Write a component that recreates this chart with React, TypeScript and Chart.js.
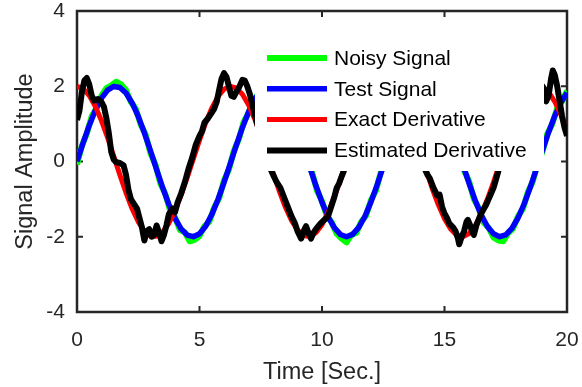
import React, { useEffect, useRef } from "react";
import { Chart, registerables } from "chart.js";

Chart.register(...registerables);

const FONT = "'Liberation Sans', Arial, Helvetica, sans-serif";
const AXIS_COLOR = "#262626";

const xTickValues = [0, 5, 10, 15, 20];
const yTickValues = [-4, -2, 0, 2, 4];
const xLabel = "Time [Sec.]";
const yLabel = "Signal Amplitude";
const seriesNames = ["Noisy Signal", "Test Signal", "Exact Derivative", "Estimated Derivative"];
const seriesColors = ["#00ff00", "#0000ff", "#ff0000", "#000000"];
const seriesWidths = [6, 5.5, 5, 6];

const timeSmooth = [
  0, 0.25, 0.5, 0.75, 1, 1.25, 1.5, 1.75, 2, 2.25, 2.5, 2.75, 3, 3.25, 3.5, 3.75,
  4, 4.25, 4.5, 4.75, 5, 5.25, 5.5, 5.75, 6, 6.25, 6.5, 6.75, 7, 7.25, 7.5, 7.75,
  8, 8.25, 8.5, 8.75, 9, 9.25, 9.5, 9.75, 10, 10.25, 10.5, 10.75, 11, 11.25, 11.5, 11.75,
  12, 12.25, 12.5, 12.75, 13, 13.25, 13.5, 13.75, 14, 14.25, 14.5, 14.75, 15, 15.25, 15.5, 15.75,
  16, 16.25, 16.5, 16.75, 17, 17.25, 17.5, 17.75, 18, 18.25, 18.5, 18.75, 19, 19.25, 19.5, 19.75, 20,
];

const testSignal = [
  0, 0.495, 0.959, 1.363, 1.683, 1.898, 1.995, 1.968, 1.819, 1.556, 1.197, 0.763, 0.282, -0.217, -0.701, -1.143,
  -1.514, -1.789, -1.955, -1.998, -1.918, -1.719, -1.411, -1.017, -0.559, -0.067, 0.43, 0.9, 1.314, 1.645, 1.876, 1.991,
  1.979, 1.842, 1.595, 1.245, 0.824, 0.346, -0.15, -0.639, -1.088, -1.469, -1.759, -1.939, -2.0, -1.936, -1.752, -1.462,
  -1.073, -0.62, -0.132, 0.365, 0.841, 1.263, 1.606, 1.853, 1.981, 1.988, 1.869, 1.633, 1.301, 0.881, 0.412, -0.088,
  -0.576, -1.031, -1.426, -1.726, -1.923, -1.999, -1.951, -1.78, -1.502, -1.129, -0.686, -0.201, 0.3, 0.779, 1.209, 1.565, 1.826,
];

const exactDerivative = [
  2.0, 1.938, 1.755, 1.463, 1.081, 0.631, 0.141, -0.356, -0.832, -1.256, -1.602, -1.849, -1.98, -1.988, -1.873, -1.641,
  -1.307, -0.893, -0.422, 0.075, 0.567, 1.025, 1.417, 1.722, 1.92, 1.999, 1.953, 1.786, 1.508, 1.136, 0.693, 0.216,
  -0.291, -0.772, -1.204, -1.562, -1.822, -1.969, -1.994, -1.892, -1.678, -1.352, -0.952, -0.487, 0.009, 0.497, 0.96, 1.364,
  1.688, 1.898, 1.996, 1.966, 1.815, 1.549, 1.192, 0.749, 0.274, -0.226, -0.718, -1.152, -1.519, -1.791, -1.957, -1.998,
  -1.916, -1.712, -1.403, -1.005, -0.551, -0.058, 0.436, 0.915, 1.32, 1.65, 1.878, 1.99, 1.977, 1.842, 1.593, 1.244, 0.816,
];

const timeNoisy = [
  0, 0.2, 0.4, 0.6, 0.8, 1, 1.2, 1.4, 1.6, 1.8, 2, 2.2, 2.4, 2.6, 2.8, 3, 3.2, 3.4, 3.6, 3.8,
  4, 4.2, 4.4, 4.6, 4.8, 5, 5.2, 5.4, 5.6, 5.8, 6, 6.2, 6.4, 6.6, 6.8, 7, 7.2, 7.4, 7.6, 7.8,
  8, 8.2, 8.4, 8.6, 8.8, 9, 9.2, 9.4, 9.6, 9.8, 10, 10.2, 10.4, 10.6, 10.8, 11, 11.2, 11.4, 11.6, 11.8,
  12, 12.2, 12.4, 12.6, 12.8, 13, 13.2, 13.4, 13.6, 13.8, 14, 14.2, 14.4, 14.6, 14.8, 15, 15.2, 15.4, 15.6, 15.8,
  16, 16.2, 16.4, 16.6, 16.8, 17, 17.2, 17.4, 17.6, 17.8, 18, 18.2, 18.4, 18.6, 18.8, 19, 19.2, 19.4, 19.6, 19.8, 20,
];

const noisySignal = [
  -0.08, 0.42, 0.74, 1.2, 1.42, 1.75, 1.95, 2.02, 2.12, 2.05, 1.9, 1.58, 1.4, 0.98, 0.72, 0.22, -0.08, -0.58, -0.85, -1.3,
  -1.48, -1.82, -1.88, -2.12, -2.08, -1.98, -1.72, -1.6, -1.22, -0.98, -0.5, -0.22, 0.28, 0.58, 1.05, 1.28, 1.65, 1.78, 2.0, 1.98,
  2.06, 1.86, 1.76, 1.42, 1.22, 0.78, 0.5, 0.0, -0.3, -0.78, -1.05, -1.46, -1.62, -1.92, -2.05, -2.15, -1.95, -1.9, -1.6, -1.44,
  -1.02, -0.78, -0.28, 0.02, 0.52, 0.8, 1.24, 1.44, 1.78, 1.88, 2.05, 1.98, 1.98, 1.74, 1.62, 1.25, 1.02, 0.55, 0.26, -0.24,
  -0.52, -1.0, -1.24, -1.62, -1.76, -2.02, -2.1, -2.12, -1.9, -1.78, -1.46, -1.26, -0.82, -0.54, -0.06, 0.26, 0.74, 1.0, 1.42, 1.6, 1.88,
];

const timeEstimated = [
  0, 0.1, 0.2, 0.3, 0.4, 0.5, 0.6, 0.7, 0.85, 1.0, 1.1, 1.2, 1.3, 1.4, 1.5, 1.6, 1.75, 1.9, 2.0, 2.1,
  2.2, 2.35, 2.45, 2.55, 2.65, 2.75, 2.85, 2.95, 3.05, 3.15, 3.25, 3.35, 3.45, 3.55, 3.65, 3.75, 3.9, 4.0, 4.1, 4.25,
  4.4, 4.55, 4.7, 4.85, 5.0, 5.1, 5.2, 5.35, 5.5, 5.6, 5.7, 5.8, 5.9, 6.0, 6.1, 6.2, 6.3, 6.4, 6.5, 6.6,
  6.75, 6.85, 6.95, 7.05, 7.2, 7.35, 7.5, 7.7, 7.9, 8.0, 8.15, 8.3, 8.45, 8.6, 8.75, 8.9, 9.0, 9.15, 9.25, 9.35,
  9.45, 9.55, 9.65, 9.75, 9.85, 9.95, 10.1, 10.25, 10.35, 10.5, 10.6, 10.7, 10.8, 10.95, 11.1, 11.5, 12.0, 12.5, 13.0, 13.5,
  14.0, 14.2, 14.3, 14.4, 14.55, 14.7, 14.8, 14.9, 15.0, 15.1, 15.2, 15.35, 15.45, 15.55, 15.6, 15.7, 15.8, 15.9, 15.95, 16.05,
  16.15, 16.2, 16.3, 16.45, 16.55, 16.7, 16.8, 16.9, 17.0, 17.1, 17.2, 17.35, 17.7, 18.2, 18.7, 19.0, 19.05, 19.1, 19.15, 19.25,
  19.35, 19.42, 19.5, 19.6, 19.7, 19.8, 19.9, 20.0,
];

const estimatedDerivative = [
  1.1, 1.35, 1.85, 2.15, 2.22, 2.05, 1.75, 1.62, 1.66, 1.58, 1.45, 1.15, 0.75, 0.25, 0.05, -0.02, -0.04, -0.1, -0.35, -0.75,
  -1.0, -1.15, -1.25, -1.5, -1.75, -2.1, -1.85, -1.8, -2.0, -1.95, -1.7, -1.9, -2.12, -1.95, -1.7, -1.4, -1.25, -1.35, -1.1, -0.85,
  -0.55, -0.2, 0.1, 0.45, 0.68, 0.8, 1.03, 1.15, 1.3, 1.4, 1.58, 1.9, 2.2, 2.35, 2.25, 2.0, 1.75, 1.72, 1.85, 1.95,
  2.17, 2.15, 2.0, 1.8, 1.4, 1.0, 0.7, 0.25, -0.2, -0.35, -0.55, -0.7, -0.95, -1.2, -1.45, -1.65, -1.85, -2.05, -1.85, -1.72,
  -1.9, -2.05, -1.9, -1.8, -1.72, -1.64, -1.55, -1.45, -1.25, -0.95, -0.7, -0.58, -0.4, -0.15, 0.2, 0.95, 1.7, 2.05, 1.8, 1.15,
  0.3, -0.2, -0.35, -0.45, -0.7, -0.9, -0.88, -1.2, -1.38, -1.5, -1.65, -1.75, -1.85, -2.05, -2.2, -2.0, -1.85, -1.6, -1.55, -1.7,
  -1.9, -1.95, -1.7, -1.45, -1.32, -1.15, -1.0, -0.85, -0.7, -0.48, -0.25, 0.05, 0.8, 1.55, 1.95, 2.0, 1.95, 1.7, 1.6, 1.75,
  2.2, 2.42, 2.3, 2.0, 1.6, 1.2, 0.9, 0.68,
];

const toPoints = (xs: number[], ys: number[]) => xs.map((x, i) => ({ x, y: ys[i] }));

const axesBoxPlugin = {
  id: "axesBox",
  beforeDatasetsDraw(chart: any) {
    const { ctx, chartArea, scales } = chart;
    const { left, right, top, bottom } = chartArea;
    const tickLen = 6;
    ctx.save();
    ctx.strokeStyle = AXIS_COLOR;
    ctx.lineWidth = 2.5;
    ctx.strokeRect(left, top, right - left, bottom - top);
    ctx.lineWidth = 2;
    ctx.beginPath();
    scales.x.ticks.forEach((t: any) => {
      const px = scales.x.getPixelForValue(t.value);
      ctx.moveTo(px, bottom);
      ctx.lineTo(px, bottom - tickLen);
      ctx.moveTo(px, top);
      ctx.lineTo(px, top + tickLen);
    });
    scales.y.ticks.forEach((t: any) => {
      const py = scales.y.getPixelForValue(t.value);
      ctx.moveTo(left, py);
      ctx.lineTo(left + tickLen, py);
      ctx.moveTo(right, py);
      ctx.lineTo(right - tickLen, py);
    });
    ctx.stroke();
    ctx.restore();
  },
};

const legendPlugin = {
  id: "insideLegend",
  afterDatasetsDraw(chart: any) {
    const { ctx, chartArea } = chart;
    const boxLeft = chartArea.left + 178;
    const boxTop = chartArea.top + 26;
    const boxWidth = 289;
    const boxHeight = 134;
    ctx.save();
    ctx.fillStyle = "#ffffff";
    ctx.fillRect(boxLeft, boxTop, boxWidth, boxHeight);
    ctx.font = `21px ${FONT}`;
    ctx.textBaseline = "middle";
    ctx.textAlign = "left";
    seriesNames.forEach((name, i) => {
      const rowY = boxTop + 21 + i * 30.8;
      ctx.strokeStyle = seriesColors[i];
      ctx.lineWidth = seriesWidths[i];
      ctx.beginPath();
      ctx.moveTo(boxLeft + 12, rowY);
      ctx.lineTo(boxLeft + 72, rowY);
      ctx.stroke();
      ctx.fillStyle = "#000000";
      ctx.fillText(name, boxLeft + 79, rowY + 1);
    });
    ctx.restore();
  },
};

export default function App() {
  const canvasRef = useRef<HTMLCanvasElement | null>(null);

  useEffect(() => {
    if (!canvasRef.current) return;
    const seriesData = [
      toPoints(timeNoisy, noisySignal),
      toPoints(timeSmooth, testSignal),
      toPoints(timeSmooth, exactDerivative),
      toPoints(timeEstimated, estimatedDerivative),
    ];
    const chart = new Chart(canvasRef.current, {
      type: "line",
      data: {
        datasets: seriesNames.map((name, i) => ({
          label: name,
          data: seriesData[i],
          borderColor: seriesColors[i],
          backgroundColor: seriesColors[i],
          borderWidth: seriesWidths[i],
          pointRadius: 0,
          tension: 0,
          fill: false,
          borderJoinStyle: "round" as const,
          order: 4 - i,
        })),
      },
      options: {
        responsive: false,
        animation: false,
        layout: { padding: { top: 11, right: 15, left: 0, bottom: 0 } },
        plugins: {
          legend: { display: false },
          tooltip: { enabled: false },
        },
        scales: {
          x: {
            type: "linear",
            min: 0,
            max: 20,
            afterBuildTicks: (scale: any) => {
              scale.ticks = xTickValues.map((v) => ({ value: v }));
            },
            ticks: {
              color: AXIS_COLOR,
              font: { family: FONT, size: 21 },
              padding: 16,
              maxRotation: 0,
            },
            grid: { display: false, drawTicks: false },
            border: { display: false },
            title: {
              display: true,
              text: xLabel,
              color: AXIS_COLOR,
              font: { family: FONT, size: 23.5 },
              padding: { top: 0, bottom: 0 },
            },
            afterFit: (scale: any) => {
              scale.height = 75;
              scale.paddingLeft = 0;
              scale.paddingRight = 0;
              scale.paddingTop = 0;
              scale.paddingBottom = 0;
            },
          },
          y: {
            type: "linear",
            min: -4,
            max: 4,
            afterBuildTicks: (scale: any) => {
              scale.ticks = yTickValues.map((v) => ({ value: v }));
            },
            ticks: {
              color: AXIS_COLOR,
              font: { family: FONT, size: 21 },
              padding: 12,
            },
            grid: { display: false, drawTicks: false },
            border: { display: false },
            title: {
              display: true,
              text: yLabel,
              color: AXIS_COLOR,
              font: { family: FONT, size: 23.5 },
              padding: { top: 11, bottom: 0 },
            },
            afterFit: (scale: any) => {
              scale.width = 77;
              scale.paddingLeft = 0;
              scale.paddingRight = 0;
              scale.paddingTop = 0;
              scale.paddingBottom = 0;
            },
          },
        },
      },
      plugins: [axesBoxPlugin, legendPlugin],
    });
    return () => chart.destroy();
  }, []);

  return (
    <div style={{ position: "fixed", left: 0, top: 0, width: 582, height: 387, background: "#ffffff" }}>
      <canvas ref={canvasRef} width={582} height={387} style={{ display: "block" }} />
    </div>
  );
}
